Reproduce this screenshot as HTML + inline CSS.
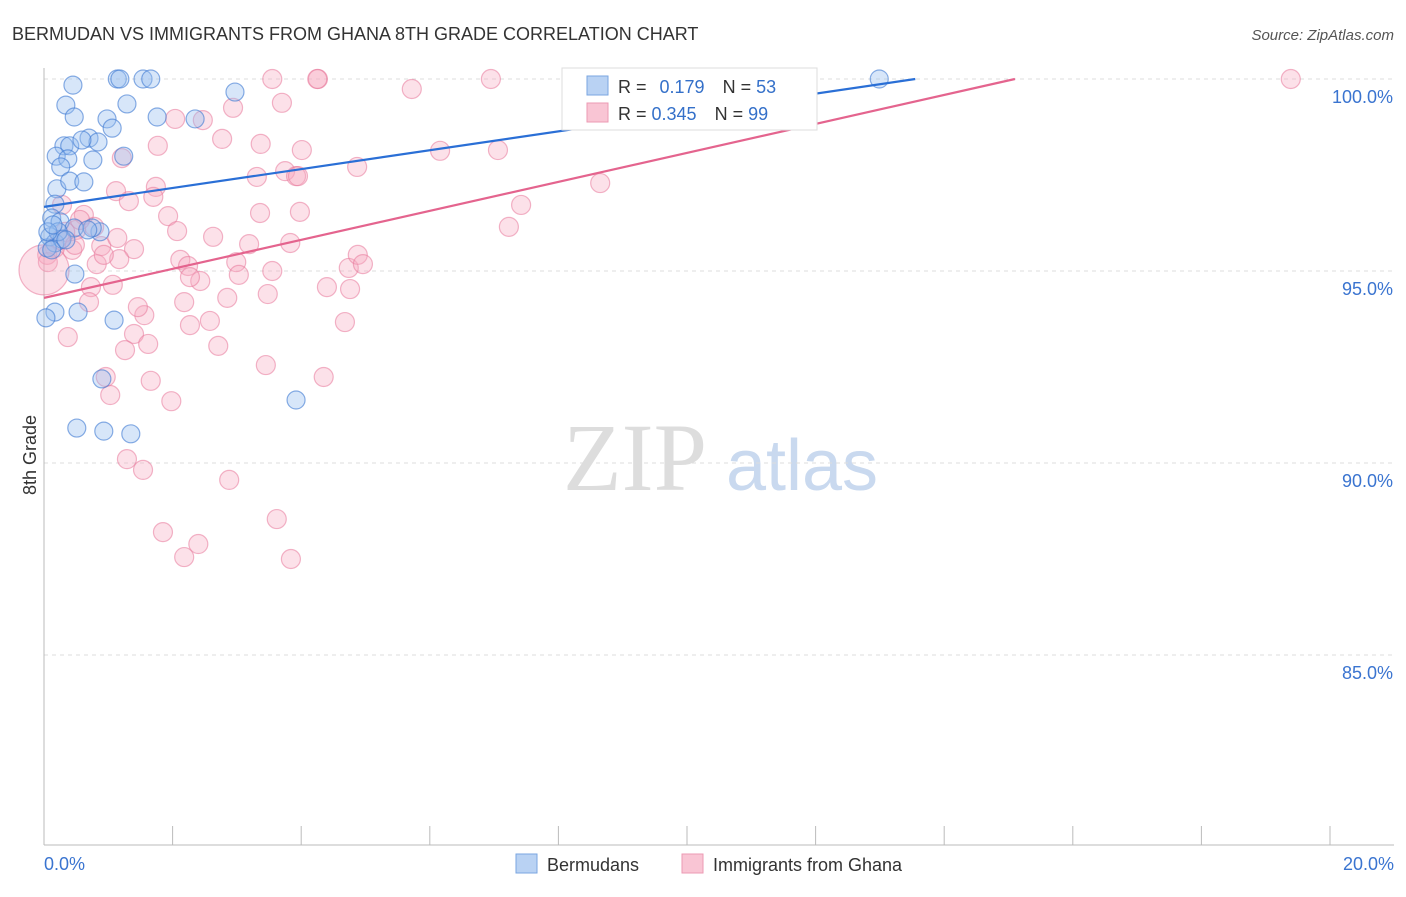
<!DOCTYPE html>
<html><head><meta charset="utf-8"><style>
body{margin:0;background:#fff;}
svg text{font-family:"Liberation Sans",sans-serif;}
</style></head><body>
<svg id="chart" width="1406" height="892" xmlns="http://www.w3.org/2000/svg">
<text x="12" y="40" font-size="18" fill="#333">BERMUDAN VS IMMIGRANTS FROM GHANA 8TH GRADE CORRELATION CHART</text>
<text x="1394" y="40" font-size="15" fill="#555" text-anchor="end" font-style="italic">Source: ZipAtlas.com</text>
<text x="36" y="455" font-size="18" fill="#333" transform="rotate(-90 36 455)" text-anchor="middle">8th Grade</text>
<g><text x="635" y="490" font-size="96" fill="#ddd" text-anchor="middle" font-family="Liberation Serif,serif" style="font-family:'Liberation Serif',serif">ZIP</text><text x="802" y="490" font-size="72" fill="#c9d9ef" text-anchor="middle">atlas</text></g>
<g id="grid"></g><g id="axes"></g><g id="pts"></g><g id="lines"></g>
<g>
<rect x="562" y="68" width="255" height="62" fill="#fff" stroke="#ddd"/>
<rect x="587" y="76" width="21" height="19" fill="#b9d2f3" stroke="#7aa6e0"/>
<rect x="587" y="103" width="21" height="19" fill="#f9c5d4" stroke="#ec9ab3"/>
<text x="618" y="93" font-size="18" fill="#333">R = <tspan fill="#3470c9" dx="8">0.179</tspan><tspan fill="#333" dx="18">N = </tspan><tspan fill="#3470c9">53</tspan></text>
<text x="618" y="120" font-size="18" fill="#333">R = <tspan fill="#3470c9">0.345</tspan><tspan fill="#333" dx="18">N = </tspan><tspan fill="#3470c9">99</tspan></text>
</g>
<g>
<rect x="516" y="854" width="21" height="19" fill="#b9d2f3" stroke="#7aa6e0"/>
<text x="547" y="871" font-size="18" fill="#333">Bermudans</text>
<rect x="682" y="854" width="21" height="19" fill="#f9c5d4" stroke="#ec9ab3"/>
<text x="713" y="871" font-size="18" fill="#333">Immigrants from Ghana</text>
</g>
</svg>
<script>
const yTicks=[100,95,90,85];
const yTickLabels=["100.0%","95.0%","90.0%","85.0%"];
const xTickLabels=["0.0%","20.0%"];
const blueX=[0.45,1.14,1.18,1.54,1.66,2.97,0.34,1.29,0.47,1.76,2.35,0.98,1.06,0.31,0.40,0.70,0.84,0.59,0.19,0.37,0.76,1.24,0.26,0.20,0.40,0.62,0.17,0.12,0.25,0.47,0.87,0.75,0.09,0.17,0.28,0.05,0.12,0.48,0.53,0.17,0.03,1.09,0.90,3.92,0.51,0.93,1.35,12.99,0.22,0.06,0.34,0.68,0.14];
const blueY=[99.84,100,100,100,100,99.66,99.32,99.35,99.01,99.01,98.96,98.96,98.72,98.26,98.26,98.46,98.36,98.41,97.99,97.92,97.89,97.99,97.71,97.14,97.34,97.32,96.74,96.38,96.28,96.12,96.02,96.12,95.89,95.73,95.83,95.60,95.55,94.92,93.93,93.93,93.78,93.72,92.19,91.64,90.91,90.83,90.76,100,96.02,96.02,95.81,96.07,96.20];
const pinkX=[3.55,4.26,4.25,6.95,8.23,9.21,19.39,3.70,2.94,5.72,2.04,2.47,2.77,3.37,1.77,4.01,6.16,7.06,1.21,4.87,3.31,3.75,3.92,3.95,8.65,1.12,1.74,1.32,1.70,1.93,3.36,3.98,7.42,7.23,2.07,2.63,3.19,3.83,2.99,2.12,2.24,1.40,1.17,0.89,0.82,0.62,0.78,0.50,0.33,0.17,0.44,0.93,1.07,3.55,4.74,4.88,4.96,2.43,2.27,3.03,0.73,4.40,4.76,2.18,3.48,2.85,0.70,1.56,1.46,2.58,2.27,4.68,1.40,1.62,1.26,2.71,0.37,3.45,0.96,1.66,4.35,1.03,1.98,1.29,1.54,2.88,1.85,3.62,2.18,2.40,3.84,0.05,0.25,0.48,0.56,1.14,0.06,0.28,0.0];
const pinkY=[100,100,100,100,100,100,100,99.38,99.25,99.74,98.96,98.93,98.44,98.31,98.26,98.15,98.13,98.15,97.94,97.71,97.45,97.60,97.47,97.47,97.29,97.08,97.19,96.82,96.93,96.43,96.51,96.54,96.72,96.15,96.04,95.89,95.70,95.73,95.23,95.29,95.13,95.57,95.31,95.65,95.18,96.46,96.15,96.07,96.02,95.60,95.55,95.42,94.64,95.00,95.08,95.42,95.18,94.74,94.84,94.90,94.58,94.58,94.53,94.19,94.40,94.30,94.19,93.85,94.06,93.70,93.59,93.67,93.36,93.10,92.94,93.05,93.28,92.55,92.24,92.14,92.24,91.77,91.61,90.10,89.82,89.56,88.20,88.54,87.55,87.89,87.50,95.42,95.81,95.68,96.33,95.86,95.23,96.72,95.03];
const blueLine=[[0,96.67],[13.55,100]];
const pinkLine=[[0,94.30],[15.1,100]];
const X=v=>44+v*64.3, Y=v=>79+(100-v)*38.4;
const NS="http://www.w3.org/2000/svg";
function mk(t,a,p){const e=document.createElementNS(NS,t);for(const k in a)e.setAttribute(k,a[k]);document.getElementById(p).appendChild(e);return e;}
yTicks.forEach((t,i)=>{
 const g=mk('line',{x1:44,x2:1394,y1:Y(t),y2:Y(t),stroke:'#ddd','stroke-dasharray':'4,4'},'grid');
 
 
 const l=mk('text',{x:1393,y:Y(t)+24,'font-size':18,fill:'#3a74d0','text-anchor':'end'},'axes');
 l.textContent=yTickLabels[i];
 
 
});
mk('line',{x1:44,x2:44,y1:68,y2:845,stroke:'#bbb'},'axes');
mk('line',{x1:44,x2:1394,y1:845,y2:845,stroke:'#bbb'},'axes');
for(let i=0;i<=10;i++){const t=mk('line',{x1:X(i*2),x2:X(i*2),y1:826,y2:845,stroke:'#bbb'},'axes');
 
 }
xTickLabels.forEach((s,i)=>{const t=mk('text',{x:i?1394:44,y:870,'font-size':18,fill:'#3a74d0','text-anchor':i?'end':'start'},'axes');t.textContent=s;
 
 });
pinkX.forEach((x,i)=>{const big=(i===pinkX.length-1);const c=mk('circle',{cx:X(x),cy:Y(pinkY[i]),r:big?25:9.5,fill:'rgba(246,170,192,0.35)',stroke:'rgba(232,120,155,0.55)','stroke-width':1.2},'pts');
 
 });
blueX.forEach((x,i)=>{const c=mk('circle',{cx:X(x),cy:Y(blueY[i]),r:9,fill:'rgba(150,190,240,0.38)',stroke:'rgba(60,120,210,0.6)','stroke-width':1.2},'pts');
 
 });
const bl=mk('line',{x1:X(blueLine[0][0]),y1:Y(blueLine[0][1]),x2:X(blueLine[1][0]),y2:Y(blueLine[1][1]),stroke:'#2a6fd6','stroke-width':2.2},'lines');


const pl=mk('line',{x1:X(pinkLine[0][0]),y1:Y(pinkLine[0][1]),x2:X(pinkLine[1][0]),y2:Y(pinkLine[1][1]),stroke:'#e4648e','stroke-width':2.2},'lines');


</script>
</body></html>
